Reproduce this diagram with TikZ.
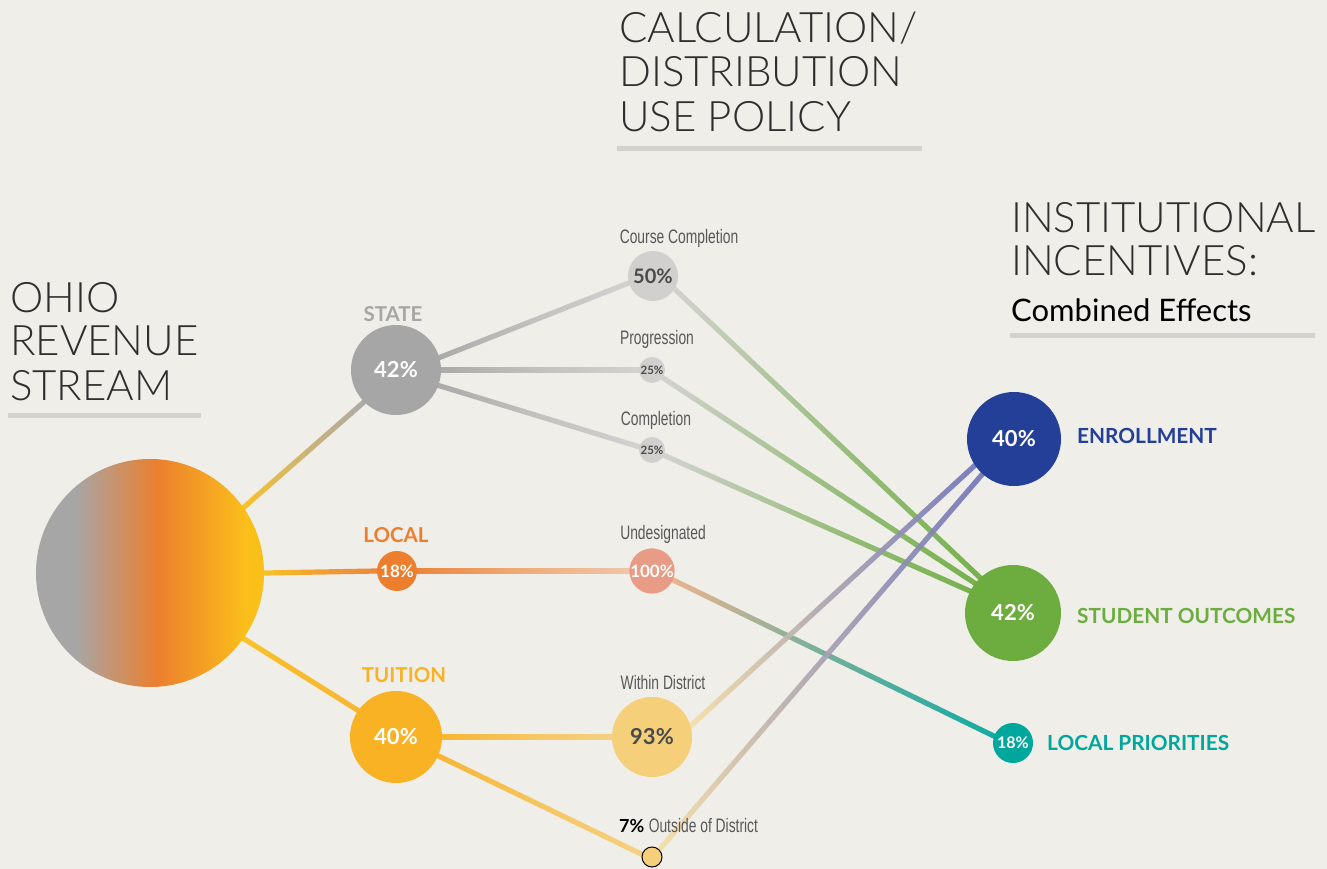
\documentclass[tikz,border=0pt]{standalone}
\usepackage{fontspec}
\usetikzlibrary{calc}
\setmainfont{Lato}
\newfontfamily\thinfont{Lato Light}
\newfontfamily\condfont[FakeStretch=0.71]{Liberation Sans}
\pgfdeclarelayer{bg}
\pgfsetlayers{bg,main}
\definecolor{cBg}{HTML}{EFEEE9}
\definecolor{cBar}{HTML}{D3D2CF}
\definecolor{cTitle}{HTML}{2E2E2E}
\definecolor{cLbl}{HTML}{58585A}
\definecolor{cDark}{HTML}{4A4A4A}
\definecolor{cGray}{HTML}{A6A6A6}
\definecolor{cLight}{HTML}{D1D0CE}
\definecolor{cOrange}{HTML}{EC7E2E}
\definecolor{cYel}{HTML}{FBBF1A}
\definecolor{cTuit}{HTML}{F8B224}
\definecolor{cPeach}{HTML}{E89B85}
\definecolor{cPeachL}{HTML}{F0C4A4}
\definecolor{cPeachD}{HTML}{EDB08A}
\definecolor{cCream}{HTML}{F5CF7A}
\definecolor{cCreamL}{HTML}{F7E0A6}
\definecolor{cBlue}{HTML}{233F98}
\definecolor{cPurple}{HTML}{7276BA}
\definecolor{cGreen}{HTML}{6DAD40}
\definecolor{cTeal}{HTML}{00A79D}
\newcommand\conn[4]{%
  \coordinate (ca) at ($(#1)!-1.5pt!(#2)$);
  \coordinate (cb) at ($(#2)!-1.5pt!(#1)$);
  \begin{pgfonlayer}{bg}
  \shade[left color=#3,right color=#4,middle color=#4!58!#3,fill opacity=0.93]
    ($(ca)!2.6pt!90:(cb)$) -- ($(ca)!2.6pt!-90:(cb)$) --
    ($(cb)!2.6pt!90:(ca)$) -- ($(cb)!2.6pt!-90:(ca)$) -- cycle;
  \end{pgfonlayer}}
\tikzset{
  bub/.style={circle,inner sep=0pt,minimum size=#1},
  ttl/.style={anchor=base west,inner sep=0pt,text=cTitle,font=\thinfont\fontsize{42}{42}\selectfont},
  bar/.style={draw=cBar,line width=5pt},
  lbl/.style={inner sep=0pt,font=\bfseries\fontsize{20.5}{20.5}\selectfont},
  rl/.style={inner sep=0pt,anchor=west,font=\bfseries\fontsize{20.8}{20.8}\selectfont},
  sub/.style={inner sep=0pt,text=cLbl,font=\condfont\fontsize{19.5}{19.5}\selectfont},
  pw/.style={text=white,font=\bfseries\fontsize{#1}{#1}\selectfont},
  pd/.style={text=cDark,font=\bfseries\fontsize{#1}{#1}\selectfont},
}
\begin{document}
\begin{tikzpicture}[x=1pt,y=-1pt]
\begin{pgfonlayer}{bg}
\fill[cBg] (0,0) rectangle (1327,869);
\end{pgfonlayer}
\useasboundingbox (0,0) rectangle (1327,869);
% titles
\node[ttl] (o1) at (10,312) {OHIO};
\node[ttl] (o2) at (10,355) {REVENUE};
\node[ttl] (o3) at (10,400) {STREAM};
\draw[bar] (8,415) -- (201,415);
\node[ttl] (c1) at (619,43) {CALCULATION/};
\node[ttl] (c2) at (619,87) {DISTRIBUTION};
\node[ttl] (c3) at (619,132) {USE POLICY};
\draw[bar] (617,149) -- (922,149);
\node[ttl] (i1) at (1011,232) {INSTITUTIONAL};
\node[ttl] (i2) at (1011,275) {INCENTIVES:};
\node[anchor=base west,inner sep=0pt,font=\fontsize{31}{31}\selectfont,text=black] (i3) at (1011,321) {Combined Effects};
\draw[bar] (1010,335) -- (1315,335);
% big gradient circle
\node[bub=228] (big) at (150,573) {};
\begin{scope}
\clip (150,573) circle[radius=114];
\fill[cGray] (35,458) rectangle (76,688);
\shade[left color=cGray,right color=cOrange] (75,458) rectangle (158,688);
\shade[left color=cOrange,right color=cYel] (157,458) rectangle (246,688);
\fill[cYel] (245,458) rectangle (265,688);
\end{scope}
% circles
\node[bub=90,fill=cGray,pw=22] (state) at (396,370) {42\%};
\node[bub=40,fill=cOrange,pw=17] (local) at (397,571) {18\%};
\node[bub=92,fill=cTuit,pw=22] (tuition) at (396,737) {40\%};
\node[bub=50,fill=cLight,pd=20] (cc) at (653,276) {50\%};
\node[bub=26,fill=cLight,pd=11.5] (prog) at (652,370) {25\%};
\node[bub=26,fill=cLight,pd=11.5] (compl) at (652,450) {25\%};
\node[bub=44,fill=cPeach,pw=17] (und) at (652,571) {100\%};
\node[bub=80,fill=cCream,pd=22] (wd) at (652,737) {93\%};
\node[bub=20,fill=cCream,draw=black,line width=1pt] (out) at (652,857) {};
\node[bub=94,fill=cBlue,pw=22] (enr) at (1014,439) {40\%};
\node[bub=96,fill=cGreen,pw=22] (so) at (1013,613) {42\%};
\node[bub=40,fill=cTeal,pw=16] (lp) at (1013,743) {18\%};
% labels
\node[lbl,text=cGray] (lstate) at (393,314) {STATE};
\node[lbl,text=cOrange] (llocal) at (396,535) {LOCAL};
\node[lbl,text=cTuit] (ltuit) at (404,675) {TUITION};
\node[sub] (lcc) at (679,238) {Course Completion};
\node[sub] (lprog) at (657,339) {Progression};
\node[sub] (lcompl) at (656,420) {Completion};
\node[sub] (lund) at (663,534) {Undesignated};
\node[sub] (lwd) at (663,683) {Within District};
\node[anchor=west,inner sep=0pt] (lout) at (619,826) {\bfseries\fontsize{18}{18}\selectfont 7\%\ {\mdseries\condfont\color{cLbl}\fontsize{19.5}{19.5}\selectfont Outside of District}};
\node[rl,text=cBlue] (lenr) at (1077,436) {ENROLLMENT};
\node[rl,text=cGreen] (lso) at (1077,616) {STUDENT OUTCOMES};
\node[rl,text=cTeal] (llp) at (1047,743) {LOCAL PRIORITIES};
% connectors
\conn{big.35}{state.225}{cYel}{cGray}
\conn{big.0}{local.180}{cYel}{cOrange}
\conn{big.325}{tuition.145}{cYel}{cTuit}
\conn{state.16}{cc.196}{cGray}{cLight}
\conn{state.0}{prog.180}{cGray}{cLight}
\conn{state.340}{compl.166}{cGray}{cLight}
\conn{cc.329}{so.133}{cLight}{cGreen}
\conn{prog.324}{so.142}{cLight}{cGreen}
\conn{compl.336}{so.153}{cLight}{cGreen}
\conn{local.0}{und.180}{cOrange}{cPeachL}
\conn{und.337}{lp.160}{cPeachD}{cTeal}
\conn{tuition.0}{wd.180}{cTuit}{cCream}
\conn{tuition.336}{out.165}{cTuit}{cCream}
\conn{wd.16}{enr.214}{cCreamL}{cPurple}
\conn{out.45}{enr.228}{cCreamL}{cPurple}
\end{tikzpicture}
\end{document}
